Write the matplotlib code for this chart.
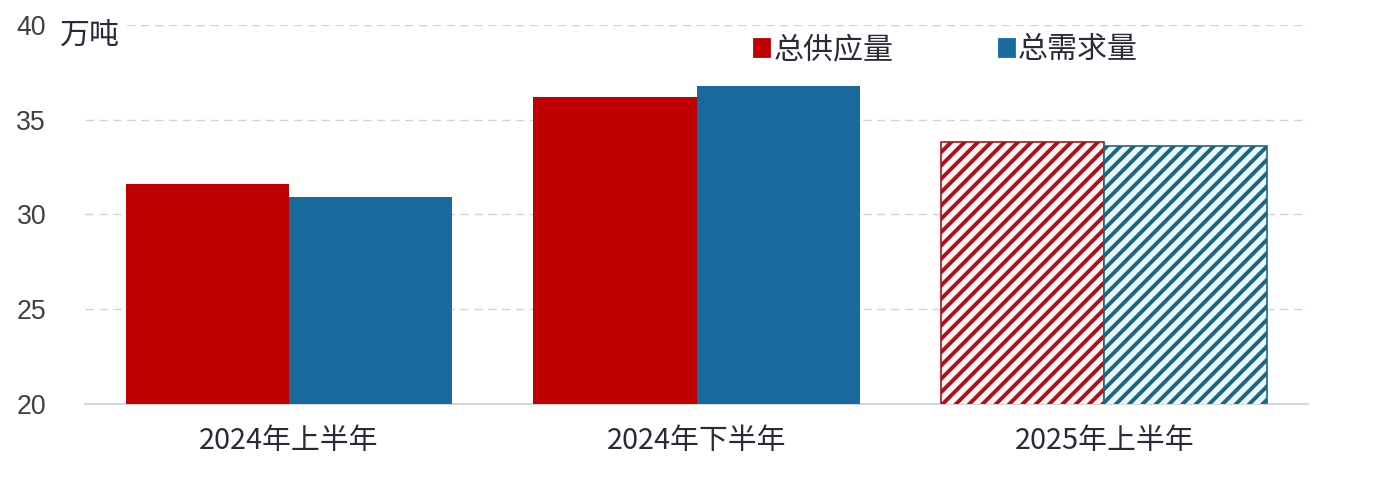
import numpy as np
import matplotlib
matplotlib.use("Agg")
import matplotlib.pyplot as plt
from matplotlib.patches import Patch

plt.rcParams['font.family'] = ['Noto Sans CJK SC', 'DejaVu Sans']

# data (万吨)
periods = ["2024年上半年", "2024年下半年", "2025年上半年"]
supply = [31.6, 36.2, 33.8]
demand = [30.9, 36.8, 33.6]
forecast = [False, False, True]  # 2025H1 drawn hatched

red = "#c00000"
blue = "#17699e"

fig = plt.figure(figsize=(6.88, 2.44), dpi=200)
ax = fig.add_axes([0.0618, 0.172, 0.8888, 0.777])

x = np.arange(len(periods))
w = 0.4
plt.rcParams['hatch.linewidth'] = 1.4
for i in range(len(periods)):
    if forecast[i]:
        ax.bar(x[i] - w / 2, supply[i], w, color="#fff4f4", edgecolor="#a8141c",
               hatch="/////", linewidth=0.6, zorder=3)
        ax.bar(x[i] + w / 2, demand[i], w, color="#eaf8fc", edgecolor="#1d6682",
               hatch="/////", linewidth=0.6, zorder=3)
    else:
        ax.bar(x[i] - w / 2, supply[i], w, color=red, zorder=3)
        ax.bar(x[i] + w / 2, demand[i], w, color=blue, zorder=3)

ax.set_xlim(-0.5, 2.5)
ax.set_ylim(20, 40)
ax.set_yticks([20, 25, 30, 35, 40])
ax.set_xticks(x)
ax.set_xticklabels(periods, fontsize=10.4, color="#2a2a38")
ax.tick_params(axis='x', length=0, pad=8)
ax.tick_params(axis='y', length=0, pad=14, labelsize=9.6, labelcolor="#404040")
for lab in ax.get_yticklabels():
    lab.set_family(['Liberation Sans', 'DejaVu Sans'])

ax.yaxis.grid(True, color="#d4d4d4", linewidth=0.5, linestyle=(0, (6, 4)), zorder=0)
for s in ["top", "right", "left"]:
    ax.spines[s].set_visible(False)
ax.spines["bottom"].set_color("#d0d0d0")
ax.spines["bottom"].set_linewidth(0.6)

fig.text(60 / 1376, 1 - 20 / 488, "万吨", fontsize=10.8, color="#2a2a38", va="top", ha="left",
         bbox=dict(facecolor="white", edgecolor="none", pad=1))

handles = [Patch(color=red, label="总供应量"), Patch(color=blue, label="总需求量")]
fig.legend(handles=handles, loc="center left", bbox_to_anchor=(0.548, 0.898), ncol=2,
           frameon=False, fontsize=10.8, handlelength=0.5, handleheight=0.5,
           handletextpad=0.15, columnspacing=3.5, borderpad=0, borderaxespad=0,
           labelcolor="#2a2a38")

fig.savefig("out.png", dpi=200, facecolor="white")
